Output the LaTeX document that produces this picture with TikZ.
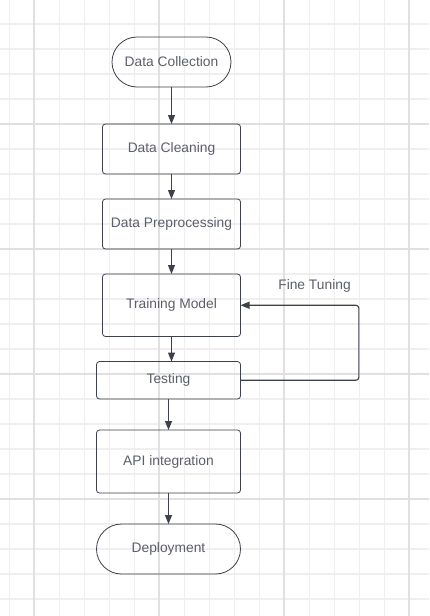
\documentclass[tikz,border=0pt]{standalone}
\usepackage{fontspec}
\setmainfont{Liberation Sans}
\usepackage{xcolor}
\usetikzlibrary{arrows.meta,calc,positioning}
\definecolor{gridminor}{HTML}{EFEFEF}
\definecolor{gridmajor}{HTML}{E0E0E0}
\definecolor{ink}{HTML}{3D414A}
\definecolor{txtgrey}{HTML}{5B5F69}
\tikzset{
	flow diagram/.style={
		x=1pt, y=1pt,
		font=\fontsize{13.8}{16}\selectfont,
		every node/.style={text=txtgrey},
		ar/.style={draw=ink, line width=1.1pt, -{Triangle[length=9pt,width=7pt]}},
		grid line/.style={draw=gridminor, line width=1.2pt},
		grid major/.style={draw=gridmajor, line width=1.8pt}
		},
	step box/.style={draw=ink, line width=.8pt, rounded corners=3pt,
		minimum width=138pt, minimum height=50pt, outer sep=0pt, inner sep=0pt},
	wide/.style={minimum width=144pt},
	end box/.style={step box, rounded corners=25pt}
}
\begin{document}
\begin{tikzpicture}[flow diagram]
	\useasboundingbox[fill=white] (0,0) rectangle (429,-616);
	% background grid
	\foreach \i in {0,...,16} \draw[grid line] ({9.3+25*\i},0) -- ++(0,-616);
	\foreach \i in {0,...,23} \draw[grid line] (0,{-24-25*\i}) -- ++(429,0);
	\foreach \i in {1,6,11,16} \draw[grid major] ({9.3+25*\i},0) -- ++(0,-616);
	\foreach \i in {4,9,14,19} \draw[grid major] (0,{-24-25*\i}) -- ++(429,0);
	% steps
	\node[end box, minimum width=119pt] (collect) at (171.5,-62) {Data Collection};
	\node[step box, below=37pt of collect] (clean) {Data Cleaning};
	\node[step box, below=25pt of clean] (prep) {Data Preprocessing};
	\node[step box, minimum height=62.5pt, below=25pt of prep] (train) {Training Model};
	\node[step box, wide, minimum height=37.5pt, below=25pt of train, xshift=-3pt] (test) {Testing};
	\node[step box, wide, minimum height=63pt, below=31pt of test] (api) {API integration};
	\node[end box, wide, below=31pt of api] (deploy) {Deployment};
	\node (tune) at ([xshift=74pt,yshift=19pt]train.east) {Fine Tuning};
	% arrows
	\draw[ar] (collect) -- (clean);
	\draw[ar] (clean) -- (prep);
	\draw[ar] (prep) -- (train);
	\draw[ar] (train.south) -- (train.south |- test.north);
	\draw[ar] (test) -- (api);
	\draw[ar] (api) -- (deploy);
	\draw[ar, rounded corners=3pt] (test.east) -- ++(118.4,0) |- (train.east);
\end{tikzpicture}
\end{document}
